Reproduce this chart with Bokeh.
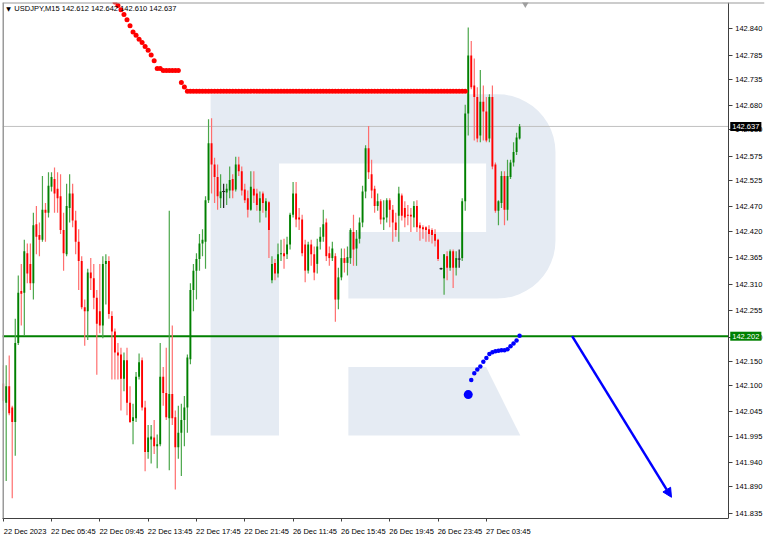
import math
from bokeh.plotting import figure
from bokeh.models import (FixedTicker, Label, Arrow, NormalHead, Span, NumeralTickFormatter,
                          ColumnDataSource, LinearAxis)
from bokeh.embed import file_html
from bokeh.resources import INLINE

# ---------------- data ----------------
x_tick_idx = [0, 16, 32, 48, 64, 80, 96, 112, 128, 144, 160]
x_tick_labels = ["22 Dec 2023", "22 Dec 05:45", "22 Dec 09:45", "22 Dec 13:45", "22 Dec 17:45",
                 "22 Dec 21:45", "26 Dec 11:45", "26 Dec 15:45", "26 Dec 19:45", "26 Dec 23:45",
                 "27 Dec 03:45"]
y_tick_vals = [142.840, 142.785, 142.735, 142.680, 142.630, 142.575, 142.525, 142.470, 142.420,
               142.365, 142.310, 142.255, 142.200, 142.150, 142.100, 142.045, 141.995, 141.940,
               141.890, 141.835]

opens = [
    142.104, 142.064, 142.098, 142.054, 142.024, 142.188, 142.296, 142.292, 142.374, 142.352,
    142.312, 142.434, 142.412, 142.402, 142.464, 142.458, 142.512, 142.528, 142.508, 142.492,
    142.422, 142.372, 142.468, 142.498, 142.442, 142.398, 142.358, 142.262, 142.254, 142.334,
    142.322, 142.282, 142.254, 142.224, 142.352, 142.358, 142.244, 142.212, 142.168, 142.164,
    142.114, 142.152, 142.064, 142.026, 142.032, 142.118, 142.152, 142.054, 141.962, 141.988,
    141.992, 141.974, 141.978, 142.118, 142.084, 142.032, 142.082, 142.034, 141.972, 142.002,
    142.028, 142.054, 142.154, 142.298, 142.338, 142.362, 142.394, 142.398, 142.484, 142.602,
    142.558, 142.532, 142.488, 142.502, 142.500, 142.504, 142.528, 142.506, 142.558, 142.544,
    142.506, 142.488, 142.464, 142.508, 142.498, 142.462, 142.498, 142.462, 142.480, 142.318,
    142.354, 142.332, 142.372, 142.374, 142.372, 142.392, 142.454, 142.498, 142.448, 142.444,
    142.392, 142.338, 142.392, 142.372, 142.352, 142.398, 142.408, 142.438, 142.374, 142.364,
    142.368, 142.278, 142.324, 142.364, 142.354, 142.364, 142.418, 142.384, 142.404, 142.438,
    142.502, 142.592, 142.538, 142.508, 142.472, 142.482, 142.444, 142.448, 142.484, 142.464,
    142.438, 142.452, 142.494, 142.468, 142.454, 142.454, 142.448, 142.472, 142.432, 142.428,
    142.428, 142.424, 142.422, 142.414, 142.402, 142.342, 142.322, 142.368, 142.344, 142.378,
    142.344, 142.362, 142.364, 142.482, 142.664, 142.784, 142.722, 142.698, 142.618, 142.688,
    142.668, 142.612, 142.698, 142.558, 142.462, 142.478, 142.534, 142.464, 142.532, 142.562,
    142.584, 142.612]
highs = [
    142.142, 142.142, 142.162, 142.058, 142.238, 142.328, 142.352, 142.402, 142.394, 142.394,
    142.458, 142.472, 142.438, 142.534, 142.478, 142.542, 142.542, 142.552, 142.542, 142.538,
    142.458, 142.518, 142.538, 142.518, 142.462, 142.424, 142.368, 142.278, 142.342, 142.364,
    142.352, 142.298, 142.352, 142.368, 142.372, 142.368, 142.254, 142.218, 142.188, 142.178,
    142.168, 142.178, 142.098, 142.062, 142.128, 142.166, 142.158, 142.068, 142.018, 142.018,
    142.028, 141.998, 142.188, 142.138, 142.178, 142.462, 142.224, 142.048, 142.058, 142.062,
    142.078, 142.164, 142.312, 142.352, 142.374, 142.414, 142.424, 142.492, 142.652, 142.654,
    142.572, 142.558, 142.538, 142.518, 142.518, 142.554, 142.538, 142.574, 142.574, 142.554,
    142.518, 142.504, 142.544, 142.544, 142.508, 142.502, 142.502, 142.488, 142.482, 142.368,
    142.362, 142.394, 142.402, 142.404, 142.408, 142.458, 142.522, 142.522, 142.468, 142.454,
    142.402, 142.398, 142.402, 142.388, 142.404, 142.428, 142.464, 142.446, 142.388, 142.398,
    142.374, 142.344, 142.384, 142.384, 142.388, 142.426, 142.454, 142.422, 142.448, 142.514,
    142.598, 142.638, 142.568, 142.514, 142.498, 142.486, 142.484, 142.488, 142.488, 142.474,
    142.458, 142.512, 142.498, 142.482, 142.474, 142.468, 142.482, 142.484, 142.438, 142.432,
    142.430, 142.432, 142.426, 142.424, 142.404, 142.344, 142.372, 142.378, 142.382, 142.382,
    142.378, 142.382, 142.488, 142.682, 142.842, 142.814, 142.778, 142.718, 142.754, 142.722,
    142.698, 142.704, 142.722, 142.562, 142.484, 142.544, 142.544, 142.568, 142.568, 142.604,
    142.624, 142.642]
lows = [
    142.048, 141.902, 142.038, 141.866, 141.954, 142.184, 142.224, 142.204, 142.312, 142.298,
    142.278, 142.372, 142.368, 142.398, 142.398, 142.448, 142.502, 142.458, 142.458, 142.414,
    142.338, 142.368, 142.438, 142.428, 142.372, 142.298, 142.258, 142.182, 142.194, 142.298,
    142.258, 142.122, 142.208, 142.198, 142.268, 142.238, 142.112, 142.112, 142.112, 142.048,
    142.088, 142.038, 142.022, 141.978, 142.024, 142.112, 142.048, 141.922, 141.948, 141.938,
    141.958, 141.928, 141.974, 142.058, 142.028, 141.924, 142.018, 141.884, 141.948, 141.912,
    141.974, 142.002, 142.144, 142.254, 142.278, 142.338, 142.368, 142.342, 142.478, 142.498,
    142.478, 142.464, 142.468, 142.468, 142.474, 142.488, 142.488, 142.502, 142.534, 142.494,
    142.478, 142.448, 142.462, 142.478, 142.462, 142.438, 142.458, 142.448, 142.364, 142.312,
    142.318, 142.324, 142.358, 142.342, 142.362, 142.382, 142.448, 142.428, 142.422, 142.368,
    142.314, 142.332, 142.348, 142.318, 142.332, 142.382, 142.398, 142.358, 142.348, 142.358,
    142.232, 142.258, 142.318, 142.334, 142.328, 142.352, 142.348, 142.348, 142.394, 142.428,
    142.488, 142.528, 142.488, 142.458, 142.462, 142.434, 142.422, 142.438, 142.428, 142.398,
    142.408, 142.398, 142.442, 142.428, 142.432, 142.418, 142.428, 142.418, 142.400, 142.404,
    142.398, 142.398, 142.394, 142.388, 142.358, 142.340, 142.288, 142.318, 142.338, 142.302,
    142.328, 142.344, 142.358, 142.462, 142.618, 142.714, 142.608, 142.604, 142.604, 142.608,
    142.604, 142.604, 142.548, 142.458, 142.432, 142.468, 142.432, 142.442, 142.528, 142.554,
    142.578, 142.610]
closes = [
    142.068, 142.098, 142.042, 142.024, 142.188, 142.292, 142.290, 142.378, 142.332, 142.312,
    142.432, 142.408, 142.402, 142.464, 142.458, 142.514, 142.532, 142.498, 142.488, 142.422,
    142.374, 142.472, 142.498, 142.442, 142.398, 142.358, 142.262, 142.254, 142.334, 142.322,
    142.282, 142.228, 142.224, 142.352, 142.358, 142.248, 142.212, 142.168, 142.162, 142.114,
    142.152, 142.064, 142.024, 142.034, 142.118, 142.148, 142.054, 141.962, 141.992, 141.994,
    141.974, 141.978, 142.118, 142.084, 142.034, 142.082, 142.032, 141.972, 142.002, 142.028,
    142.054, 142.158, 142.298, 142.338, 142.362, 142.394, 142.402, 142.484, 142.602, 142.558,
    142.532, 142.492, 142.502, 142.502, 142.508, 142.526, 142.504, 142.558, 142.544, 142.504,
    142.484, 142.464, 142.512, 142.494, 142.474, 142.488, 142.478, 142.482, 142.422, 142.352,
    142.332, 142.372, 142.374, 142.368, 142.392, 142.454, 142.498, 142.444, 142.444, 142.374,
    142.338, 142.392, 142.372, 142.334, 142.388, 142.408, 142.434, 142.368, 142.364, 142.384,
    142.278, 142.324, 142.364, 142.354, 142.366, 142.422, 142.382, 142.404, 142.438, 142.502,
    142.592, 142.542, 142.504, 142.472, 142.482, 142.444, 142.448, 142.484, 142.464, 142.438,
    142.422, 142.498, 142.452, 142.448, 142.452, 142.450, 142.472, 142.428, 142.426, 142.424,
    142.422, 142.414, 142.412, 142.400, 142.362, 142.342, 142.372, 142.344, 142.378, 142.344,
    142.364, 142.362, 142.482, 142.664, 142.784, 142.718, 142.698, 142.612, 142.688, 142.668,
    142.608, 142.698, 142.554, 142.462, 142.482, 142.534, 142.464, 142.534, 142.562, 142.584,
    142.614, 142.637]

# red indicator dots (bar index, price)
red_dot_idx = list(range(37, 154))
red_dot_vals = [
    142.895, 142.888, 142.879, 142.869, 142.858, 142.846, 142.833, 142.826, 142.818, 142.811,
    142.803, 142.795, 142.785, 142.773, 142.757, 142.757, 142.753, 142.753, 142.753, 142.753,
    142.753, 142.753, 142.728, 142.719,
    142.710, 142.710, 142.710, 142.710, 142.710, 142.710, 142.710, 142.710, 142.710, 142.710,
    142.710, 142.710, 142.710, 142.710, 142.710, 142.710, 142.710, 142.710, 142.710, 142.710,
    142.710, 142.710, 142.710, 142.710, 142.710, 142.710, 142.710, 142.710, 142.710, 142.710,
    142.710, 142.710, 142.710, 142.710, 142.710, 142.710, 142.710, 142.710, 142.710, 142.710,
    142.710, 142.710, 142.710, 142.710, 142.710, 142.710, 142.710, 142.710, 142.710, 142.710,
    142.710, 142.710, 142.710, 142.710, 142.710, 142.710, 142.710, 142.710, 142.710, 142.710,
    142.710, 142.710, 142.710, 142.710, 142.710, 142.710, 142.710, 142.710, 142.710, 142.710,
    142.710, 142.710, 142.710, 142.710, 142.710, 142.710, 142.710, 142.710, 142.710, 142.710,
    142.710, 142.710, 142.710, 142.710, 142.710, 142.710, 142.710, 142.710, 142.710, 142.710,
    142.710, 142.710, 142.710]

# blue indicator dots
blue_big_idx = [154]
blue_big_vals = [142.081]
blue_dot_idx = list(range(155, 172))
blue_dot_vals = [142.111, 142.125, 142.133, 142.139, 142.149, 142.157, 142.165, 142.169, 142.171,
                 142.172, 142.173, 142.173, 142.175, 142.181, 142.187, 142.193, 142.203]

support_level = 142.202
last_price = 142.637
arrow_x = [188.4, 221.3]
arrow_y = [142.202, 141.868]
shift_marker_x = [172.9]
shift_marker_y = [142.891]
title_text = "USDJPY,M15  142.612 142.642 142.610 142.637"

# ---------------- figure ----------------
X0, X1 = -0.226, 252.1      # frame spans chart area + price scale area
AXIS_X = 240.1              # right edge of the chart area (price axis line)
Y0, Y1 = 141.824, 142.894
FW, FH = 762, 516
FONT = "Liberation Sans"

p = figure(frame_width=FW, frame_height=FH, x_range=(X0, X1), y_range=(Y0, Y1),
           y_axis_location=None, toolbar_location=None, output_backend="svg",
           min_border=0, min_border_left=2, min_border_top=2, min_border_right=2)
p.grid.visible = False
p.outline_line_color = None
p.background_fill_color = "white"
p.border_fill_color = "white"

# watermark logo (shape given in reference-pixel space, mapped to data space)
def to_data(pts):
    xs = [(a - 2.7) / 3.091 for a, b in pts]
    ys = [142.898 - 0.002 * b for a, b in pts]
    return xs, ys

r = 60
outline = [(215, 97)]
for k in range(13):
    t = math.radians(90 - 7.5 * k)
    outline.append((568 - r + r * math.cos(t), 97 + r - r * math.sin(t)))
for k in range(13):
    t = math.radians(-7.5 * k)
    outline.append((568 - r + r * math.cos(t), 309 - r - r * math.sin(t)))
outline += [(356, 309), (356, 240), (497, 240), (497, 169), (285, 169), (285, 451), (215, 451)]
leg = [(356, 380), (497, 380), (532, 451), (356, 451)]
WM = "#e5ebf3"
for shape in (outline, leg):
    xs, ys = to_data(shape)
    p.patch(xs, ys, fill_color=WM, line_color=None)

# window borders (left and top)
p.add_layout(Span(location=X0, dimension="height", line_color="#9a9a9a", line_width=3))
p.add_layout(Span(location=Y1, dimension="width", line_color="#9a9a9a", line_width=2))

# horizontal levels across the chart area
p.segment(x0=[X0], y0=[last_price], x1=[AXIS_X], y1=[last_price], line_color="#c0c0c0", line_width=1)
p.segment(x0=[X0], y0=[support_level], x1=[AXIS_X], y1=[support_level], line_color="#008000",
          line_width=2)

# candles
idx = list(range(len(opens)))
body_col, wick_col, tops, bots = [], [], [], []
for o, c in zip(opens, closes):
    if c > o:
        body_col.append("#008000"); wick_col.append("#4aa64a")
    elif c < o:
        body_col.append("#ff0000"); wick_col.append("#ff6e6e")
    else:
        body_col.append("#202020"); wick_col.append("#202020")
    tops.append(max(o, c)); bots.append(min(o, c))
src = ColumnDataSource(dict(x=idx, h=highs, l=lows, top=tops, bot=bots, bc=body_col, wc=wick_col))
p.segment(x0="x", y0="l", x1="x", y1="h", line_color="wc", line_width=1.2, source=src)
p.vbar(x="x", width=0.62, top="top", bottom="bot", fill_color="bc", line_color=None, source=src)
doji = [i for i in idx if opens[i] == closes[i]]
p.segment(x0=[i - 0.5 for i in doji], y0=[opens[i] for i in doji],
          x1=[i + 0.5 for i in doji], y1=[opens[i] for i in doji], line_color="#202020", line_width=1)

# indicator dots
p.scatter(red_dot_idx, red_dot_vals, size=5, fill_color="#ff0000", line_color=None)
p.scatter(blue_dot_idx, blue_dot_vals, size=4.5, fill_color="#0000ff", line_color=None)
p.scatter(blue_big_idx, blue_big_vals, size=9, fill_color="#0000ff", line_color=None)

# projection arrow
p.add_layout(Arrow(end=NormalHead(size=9, fill_color="#0000ff", line_color="#0000ff", line_width=1),
                   x_start=arrow_x[0], y_start=arrow_y[0], x_end=arrow_x[1], y_end=arrow_y[1],
                   line_color="#0000ff", line_width=2.5))

# chart shift marker
p.scatter(shift_marker_x, shift_marker_y, marker="inverted_triangle", size=7,
          fill_color="#a0a0a0", line_color=None)

# title
p.add_layout(Label(x=1.0, y=142.882, text="\u25bc", text_font="DejaVu Sans",
                   text_font_size="6px", text_color="black", text_baseline="middle"))
p.add_layout(Label(x=3.7, y=142.882, text=title_text, text_font=FONT,
                   text_font_size="7.5px", text_color="black", text_baseline="middle"))

# price axis, drawn at the right edge of the chart area
ya = LinearAxis(fixed_location=AXIS_X)
p.add_layout(ya, "right")
ya.ticker = FixedTicker(ticks=y_tick_vals)
ya.formatter = NumeralTickFormatter(format="0.000")
ya.major_tick_in = 0
ya.major_tick_out = 4
ya.minor_tick_out = 0
ya.minor_tick_in = 0
ya.major_label_standoff = 3
ya.axis_line_color = "#404040"
ya.major_tick_line_color = "#404040"
ya.major_label_text_font = FONT
ya.major_label_text_font_size = "7.5px"
ya.major_label_text_color = "black"

# price boxes on the price axis
for lvl, bg in ((last_price, "#000000"), (support_level, "#008000")):
    p.add_layout(Label(x=AXIS_X, y=lvl, x_offset=2, text=f"{lvl:.3f}", text_font=FONT,
                       text_font_size="7.5px", text_color="white", text_baseline="middle",
                       text_align="left", background_fill_color=bg, padding=2, level="overlay"))

# x axis: labels start at their tick (label centres shifted right, tick marks drawn as minor ticks)
LABEL_SHIFT = 7.25
xa = p.xaxis[0]
xa.bounds = (X0, AXIS_X)
xa.ticker = FixedTicker(ticks=[i + LABEL_SHIFT for i in x_tick_idx], minor_ticks=x_tick_idx)
xa.major_label_overrides = {i + LABEL_SHIFT: lab for i, lab in zip(x_tick_idx, x_tick_labels)}
xa.major_tick_in = 0
xa.major_tick_out = 0
xa.minor_tick_in = 0
xa.minor_tick_out = 3
xa.minor_tick_line_color = "#404040"
xa.major_label_standoff = 5
xa.axis_line_color = "#404040"
xa.major_label_text_font = FONT
xa.major_label_text_font_size = "7.5px"
xa.major_label_text_color = "black"

open("out.html", "w").write(file_html(p, INLINE))
